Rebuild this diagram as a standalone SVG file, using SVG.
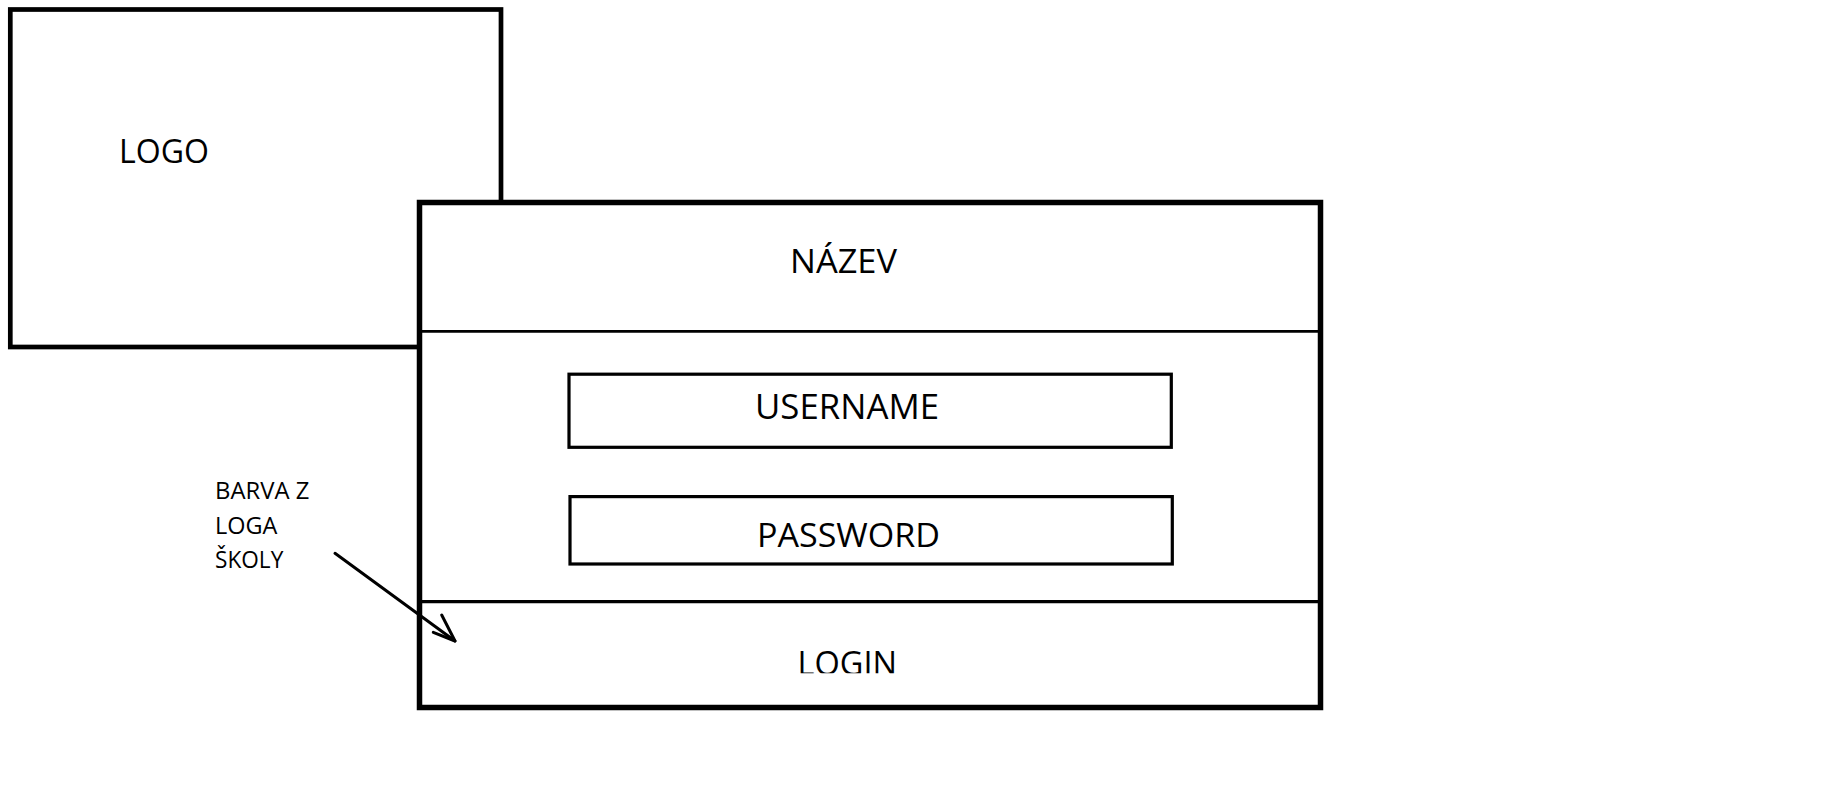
<svg xmlns="http://www.w3.org/2000/svg" width="1829" height="793" viewBox="0 0 1829 793">
<style>
  .t { font-family: "Open Sans", "Noto Sans", "DejaVu Sans", sans-serif; fill: #000; }
  .box { fill: #fff; stroke: #000; }
</style>
<defs>
  <clipPath id="loginClip"><rect x="420" y="604" width="898" height="69.3"/></clipPath>
</defs>
<rect x="0" y="0" width="1829" height="793" fill="#fff"/>
<g id="logo">
  <rect class="box" x="10.3" y="9.5" width="490.7" height="337.5" stroke-width="4.7"/>
  <text class="t" x="119" y="163.3" font-size="33.6" textLength="90" lengthAdjust="spacingAndGlyphs">LOGO</text>
</g>
<g id="login-form">
  <rect class="box" x="419.5" y="202.5" width="901" height="505" stroke-width="5.5"/>
</g>
<g id="nazev">
  <text class="t" x="790" y="272.7" font-size="33" textLength="107" lengthAdjust="spacingAndGlyphs">NÁZEV</text>
  <line x1="419.5" y1="331.3" x2="1320.5" y2="331.3" stroke="#000" stroke-width="2.8"/>
</g>
<g id="username">
  <rect class="box" x="569" y="374.2" width="602.3" height="73.1" stroke-width="3.2"/>
  <text class="t" x="755" y="418.5" font-size="34" textLength="184" lengthAdjust="spacingAndGlyphs">USERNAME</text>
</g>
<g id="password">
  <rect class="box" x="570" y="496.6" width="602.3" height="67.4" stroke-width="3.2"/>
  <text class="t" x="757" y="546.7" font-size="33" textLength="183" lengthAdjust="spacingAndGlyphs">PASSWORD</text>
</g>
<g id="login">
  <line x1="419.5" y1="601.7" x2="1320.5" y2="601.7" stroke="#000" stroke-width="3.2"/>
  <text class="t" x="797.5" y="674.7" font-size="33.6" textLength="99.5" lengthAdjust="spacingAndGlyphs" clip-path="url(#loginClip)">LOGIN</text>
</g>
<g id="note">
  <text class="t" font-size="23.4">
    <tspan x="215" y="499" textLength="94.3" lengthAdjust="spacingAndGlyphs">BARVA Z</tspan>
    <tspan x="215" y="534" textLength="62.3" lengthAdjust="spacingAndGlyphs">LOGA</tspan>
    <tspan x="215" y="567.7" textLength="68.3" lengthAdjust="spacingAndGlyphs">ŠKOLY</tspan>
  </text>
</g>
<g id="connectors" fill="none" stroke="#000" stroke-width="3" stroke-linecap="round" stroke-linejoin="round">
  <line x1="335" y1="553.3" x2="455" y2="641"/>
  <polyline points="441.7,615 455,641 433.3,632.3"/>
</g>
</svg>
